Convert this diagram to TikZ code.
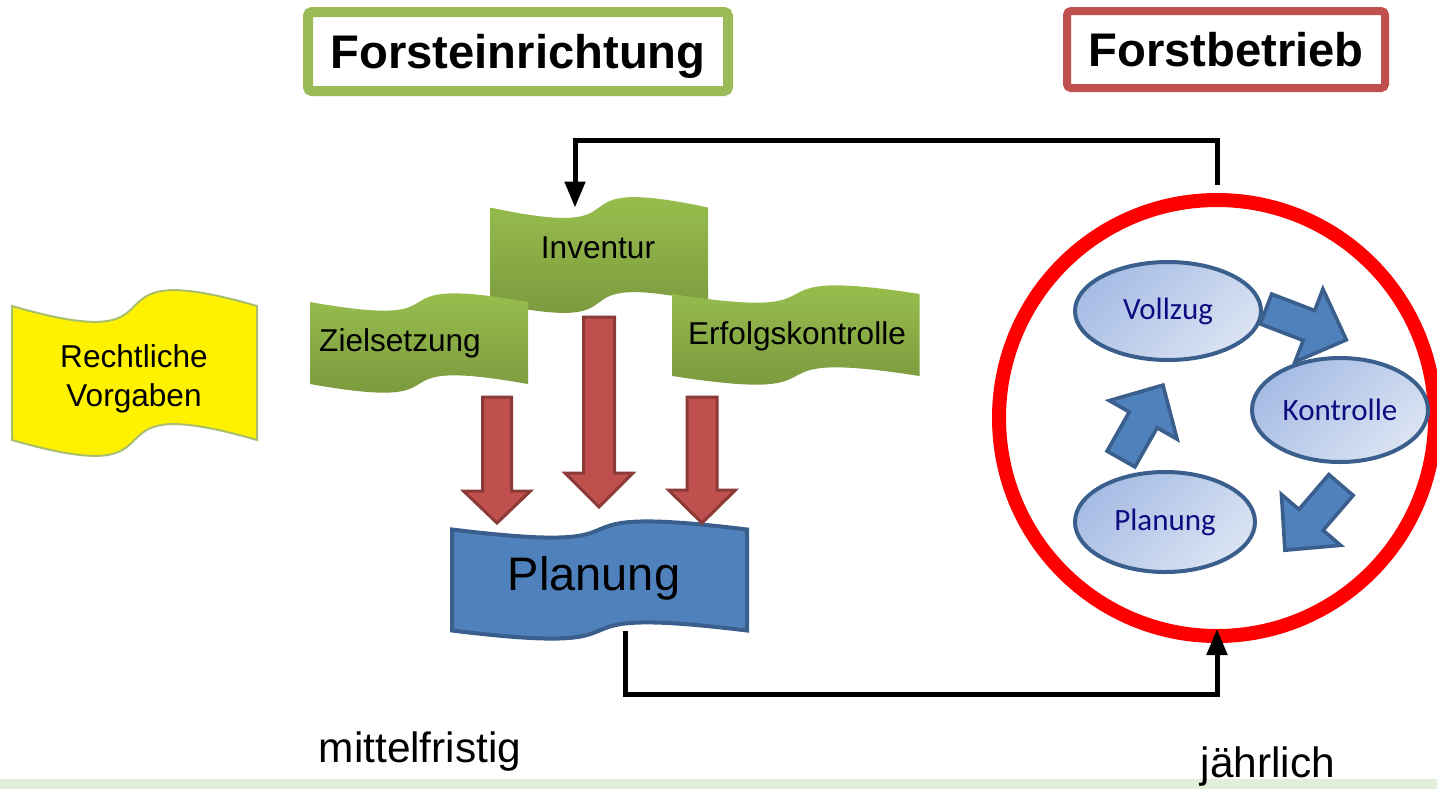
\documentclass[tikz,border=0pt]{standalone}
\usepackage{fontspec}
\setmainfont{Liberation Sans}
\newfontfamily\calfont{Carlito}
\usetikzlibrary{arrows.meta, shapes.geometric, backgrounds, calc}

\definecolor{hdrgreen}{HTML}{9BBB59}
\definecolor{hdrred}{HTML}{C0504D}
\definecolor{leafhi}{HTML}{9DC550}
\definecolor{leaflo}{HTML}{76933C}
\definecolor{planblue}{HTML}{4F81BD}
\definecolor{planedge}{HTML}{3A5F8C}
\definecolor{ellhi}{HTML}{A6BCE4}
\definecolor{elllo}{HTML}{DAE3F3}
\definecolor{navytxt}{HTML}{0C0C80}
\definecolor{brick}{HTML}{C0504D}
\definecolor{brickedge}{HTML}{8C3A38}
\definecolor{yellowedge}{HTML}{A9BE6E}
\definecolor{bandgreen}{HTML}{E3EEDA}

% wavy banner behind a (rectangular) node
\newcommand{\wavefill}[3]{%
  \path[#1] (#2.north west)
      .. controls ($(#2.north)!0.55!(#2.north east)+(0,-#3)$) and ($(#2.north)!0.55!(#2.north west)+(0,#3)$) .. (#2.north east)
    -- (#2.south east)
      .. controls ($(#2.south)!0.55!(#2.south west)+(0,#3)$) and ($(#2.south)!0.55!(#2.south east)+(0,-#3)$) .. (#2.south west)
    -- cycle;}

% block arrow: style, tail, angle, length, shaft half width, head half width, head length
\newcommand{\blkarrow}[7]{%
  \draw[#1, shift={#2}, rotate=#3] (0,-#5) -- ({#4-#7},-#5) -- ({#4-#7},-#6) -- (#4,0)
    -- ({#4-#7},#6) -- ({#4-#7},#5) -- (0,#5) -- cycle;}

\begin{document}
\begin{tikzpicture}[x=0.5pt, y=-0.5pt,
  hdr/.style={rectangle, draw, line width=5pt, rounded corners=2pt, fill=white, inner sep=0pt, text depth=0pt, font=\fontsize{23.6}{28}\selectfont\bfseries},
  banner/.style={rectangle, inner sep=0pt, outer sep=0pt},
  lbl/.style={font=\fontsize{15.8}{19.5}\selectfont, align=center, inner sep=0pt},
  note/.style={font=\fontsize{21.2}{25}\selectfont, inner sep=0pt},
  leaf/.style={top color=leafhi, bottom color=leaflo},
  stage/.style={ellipse, draw=planedge, line width=2pt, inner sep=0pt, top color=ellhi, bottom color=elllo, shading angle=45, text=navytxt, font=\calfont\fontsize{15.5}{18}\selectfont},
  fb/.style={line width=2.5pt, -{Triangle[length=13pt, width=10pt]}},
  redarr/.style={fill=brick, draw=brickedge, line width=1.5pt},
  bluearr/.style={fill=planblue, draw=planedge, line width=1.8pt},
]
\useasboundingbox (0,0) rectangle (1437,789);
\fill[bandgreen] (0,779) rectangle (1437,789);

% headers
\node[hdr, draw=hdrgreen, minimum width=210pt, minimum height=39.5pt] (einrichtung) at (518,51.5) {Forsteinrichtung};
\node[hdr, draw=hdrred, line width=4pt, minimum width=159pt, minimum height=38.5pt] (betriebhdr) at (1226,49.5) {Forstbetrieb};

% Forsteinrichtung
\node[banner, minimum width=122.5pt, minimum height=67pt] (vorgaben) at (134.5,373) {};
\node[lbl] (vorgabentxt) at (134,379) {Rechtliche\\Vorgaben};
\node[banner, minimum width=109pt, minimum height=47.5pt] (inventur) at (599,255) {};
\node[lbl] (inventurtxt) at (598,248) {Inventur};
\node[banner, minimum width=109pt, minimum height=41pt] (zielsetzung) at (419,343) {};
\node[lbl] (zielsetzungtxt) at (400,343) {Zielsetzung};
\node[banner, minimum width=123.5pt, minimum height=41pt] (erfolg) at (796,335) {};
\node[lbl] (erfolgtxt) at (797,336) {Erfolgskontrolle};
\node[banner, minimum width=147.5pt, minimum height=50.5pt] (planung) at (599.5,580) {};
\node[font=\fontsize{23.5}{28}\selectfont, inner sep=0pt] (planungtxt) at (594,578) {Planung};

\begin{scope}[on background layer]
  \wavefill{fill=yellow, draw=yellowedge, line width=1pt}{vorgaben}{27.5pt}
  \wavefill{leaf}{inventur}{18pt}
  \wavefill{leaf}{zielsetzung}{15pt}
  \wavefill{leaf}{erfolg}{15pt}
  \wavefill{fill=planblue, draw=planedge, line width=2pt}{planung}{14pt}
\end{scope}

\blkarrow{redarr}{(497,397)}{-90}{126}{14.5}{33.5}{32}
\blkarrow{redarr}{(599,317)}{-90}{190}{15.5}{34}{34}
\blkarrow{redarr}{(702,397)}{-90}{126}{15}{33.5}{33}

% Forstbetrieb
\node[circle, draw=red, line width=7pt, minimum size=218pt, inner sep=0pt] (betrieb) at (1217,418) {};
\node[stage, minimum width=93pt, minimum height=49pt] (vollzug) at (1168,311) {Vollzug};
\node[stage, minimum width=88pt, minimum height=52pt] (kontrolle) at (1340,410) {Kontrolle};
\node[stage, minimum width=90pt, minimum height=50pt] (zyklplanung) at (1165,522) {Planung};

\blkarrow{bluearr}{(1266,309)}{-21}{86}{16}{39}{40}
\blkarrow{bluearr}{(1341,485)}{-130.7}{86}{16}{39}{40}
\blkarrow{bluearr}{(1121,459)}{60.4}{85}{16}{39}{40}

% Rueckkopplung
\draw[fb, shorten <=4pt] (betrieb.north) -- ++(0,-53) -| ([xshift=-12pt]inventur.north);
\draw[fb] ([xshift=12.75pt]planung.south) -- ++(0,64) -| ([yshift=7pt]betrieb.south);

\node[note] (mittel) at (420,752) {mittelfristig};
\node[note] (jaehrlich) at (1268,767) {jährlich};

\end{tikzpicture}
\end{document}
